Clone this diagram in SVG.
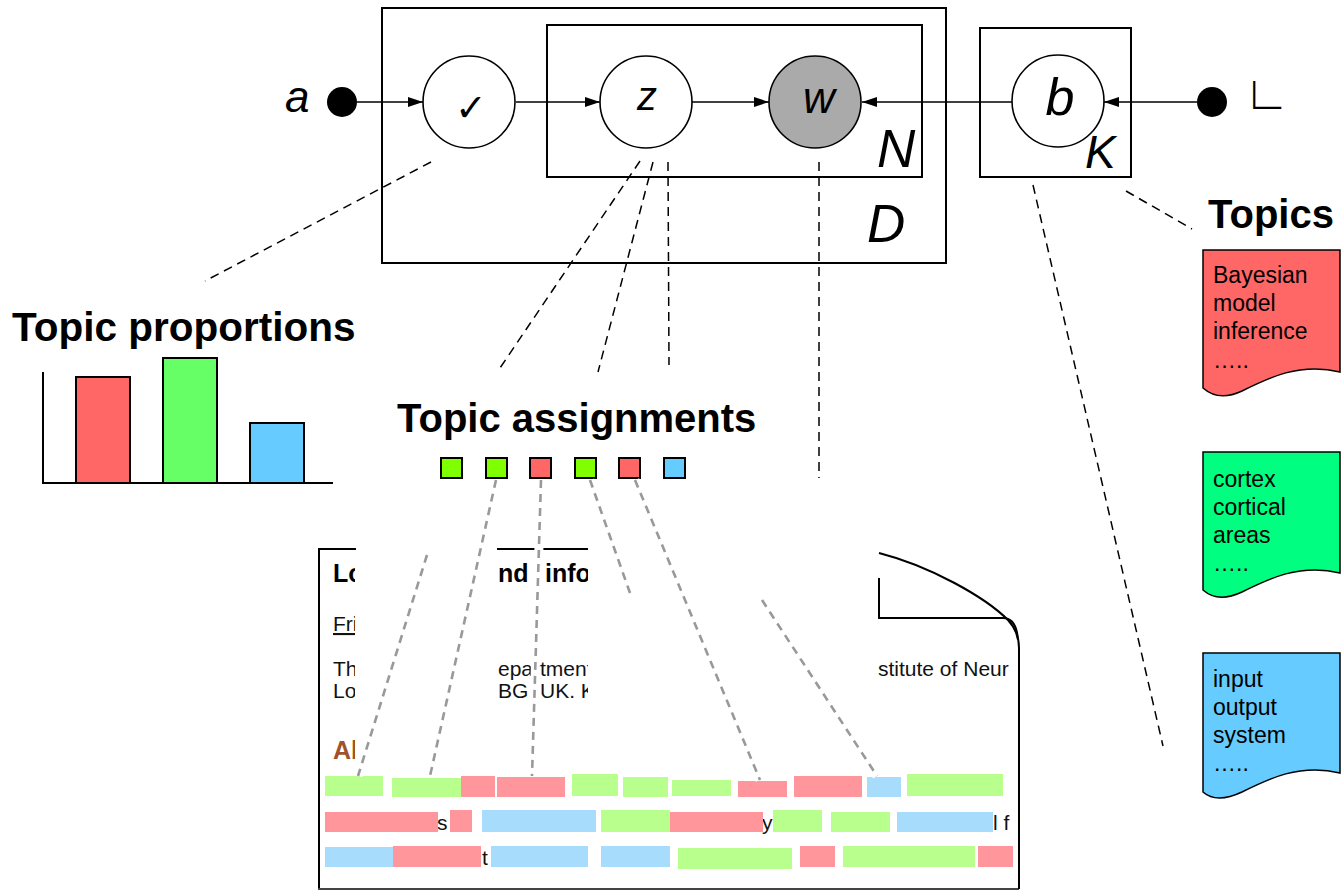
<svg xmlns="http://www.w3.org/2000/svg" width="1341" height="890" viewBox="0 0 1341 890">
  <style>
    .plate { fill: none; stroke: #000; stroke-width: 2; }
    .node { fill: #fff; stroke: #000; stroke-width: 1.6; }
    .obs { fill: #aaaaaa; stroke: #000; stroke-width: 1.6; }
    .var { font-family: "Liberation Sans", Arial, sans-serif; font-style: italic; fill: #000; }
    .edge { stroke: #000; stroke-width: 1.6; fill: none; }
    .lead { stroke: #000; stroke-width: 1.5; fill: none; stroke-dasharray: 9 6; }
    .glead { stroke: #999; stroke-width: 2.6; fill: none; stroke-dasharray: 8 6; }
    .halo { stroke: #fff; stroke-width: 9; fill: none; }
    .title { font-family: "Liberation Sans", Arial, sans-serif; font-weight: bold; font-size: 40px; fill: #000; }
    .topic { stroke: #000; stroke-width: 1.5; }
    .ttxt { font-family: "Liberation Sans", Arial, sans-serif; font-size: 23px; fill: #000; }
    .bar { stroke: #000; stroke-width: 2; }
    .sq { stroke: #000; stroke-width: 2; }
    .doc { font-family: "Liberation Sans", Arial, sans-serif; fill: #111; }
    .head { font-family: "Liberation Sans", Arial, sans-serif; font-weight: bold; font-size: 25px; }
    .hl-g { fill: #b8ff8e; }
    .hl-r { fill: #ff969c; }
    .hl-b { fill: #a8dcfc; }
  </style>
  <defs>
    <marker id="arrow" markerUnits="userSpaceOnUse" markerWidth="15" markerHeight="10" refX="15" refY="5" orient="auto">
      <path d="M0,0 L15,5 L0,10 z" fill="#000"/>
    </marker>
    <clipPath id="clipLeft"><rect x="315" y="540" width="40" height="230"/></clipPath>
    <clipPath id="clipMid"><rect x="497" y="540" width="91" height="170"/></clipPath>
  </defs>

  <rect width="1341" height="890" fill="#fff"/>

  <!-- plates -->
  <g id="plate-D"><rect class="plate" x="382" y="8" width="564" height="255"/>
    <text class="var" x="867" y="242" font-size="53">D</text></g>
  <g id="plate-N"><rect class="plate" x="547" y="25" width="375" height="152"/>
    <text class="var" x="877" y="167" font-size="53">N</text></g>
  <g id="plate-K"><rect class="plate" x="980" y="28" width="151" height="149"/>
    <text class="var" x="1085" y="168" font-size="46">K</text></g>

  <!-- connectors -->
  <g id="connectors">
    <line class="edge" x1="357" y1="102" x2="423" y2="102" marker-end="url(#arrow)"/>
    <line class="edge" x1="516" y1="102" x2="600" y2="102" marker-end="url(#arrow)"/>
    <line class="edge" x1="692" y1="102" x2="769" y2="102" marker-end="url(#arrow)"/>
    <line class="edge" x1="1012" y1="102" x2="862" y2="102" marker-end="url(#arrow)"/>
    <line class="edge" x1="1197" y1="102" x2="1104" y2="102" marker-end="url(#arrow)"/>
    <!-- dashed leaders from the model -->
    <line class="lead" x1="431" y1="162" x2="205" y2="281"/>
    <line class="lead" x1="640" y1="161" x2="500" y2="368"/>
    <line class="lead" x1="653" y1="162" x2="598" y2="372"/>
    <line class="lead" x1="668" y1="162" x2="669" y2="365"/>
    <line class="lead" x1="819" y1="162" x2="819" y2="478"/>
    <line class="lead" x1="1033" y1="185" x2="1163" y2="746"/>
    <line class="lead" x1="1126" y1="191" x2="1192" y2="229"/>
  </g>

  <!-- nodes -->
  <g id="node-alpha"><circle cx="342" cy="102" r="15" fill="#000"/>
    <text class="var" x="285" y="112" font-size="44">a</text></g>
  <g id="node-theta"><circle class="node" cx="469" cy="102" r="46"/>
    <text x="471" y="121" font-family="DejaVu Sans, sans-serif" font-size="38" text-anchor="middle">✓</text></g>
  <g id="node-z"><circle class="node" cx="646" cy="102" r="46"/>
    <text class="var" x="647" y="110" font-size="40" text-anchor="middle">z</text></g>
  <g id="node-w"><circle class="obs" cx="815" cy="102" r="46"/>
    <text class="var" x="819" y="113" font-size="44" text-anchor="middle">w</text></g>
  <g id="node-beta"><circle class="node" cx="1058" cy="101" r="46"/>
    <text class="var" x="1060" y="115" font-size="52" text-anchor="middle">b</text></g>
  <g id="node-eta"><circle cx="1212" cy="102" r="15" fill="#000"/>
    <text x="1244" y="109" font-family="DejaVu Sans, sans-serif" font-weight="200" font-size="47">∟</text></g>

  <!-- topic proportions -->
  <g id="proportions">
    <text class="title" x="12" y="341" style="font-size:40.5px">Topic proportions</text>
    <rect class="bar" x="76" y="377" width="54" height="106" fill="#ff6666"/>
    <rect class="bar" x="163" y="358" width="54" height="125" fill="#66ff66"/>
    <rect class="bar" x="250" y="423" width="54" height="60" fill="#66ccff"/>
    <polyline fill="none" stroke="#000" stroke-width="2" points="43,372 43,483 333,483"/>
  </g>

  <!-- topics -->
  <g id="topics">
    <text class="title" x="1208" y="228">Topics</text>
    <g id="topic-1">
      <path class="topic" fill="#ff6666" d="M1203,250 H1340 V372 C1300,362 1268,378 1242,391 C1225,399 1212,396 1203,388 Z"/>
      <text class="ttxt" x="1213" y="283">Bayesian</text>
      <text class="ttxt" x="1213" y="311">model</text>
      <text class="ttxt" x="1213" y="339">inference</text>
      <text class="ttxt" x="1213" y="368">…..</text>
    </g>
    <g id="topic-2">
      <path class="topic" fill="#00ff80" d="M1203,452 H1340 V573 C1300,563 1268,579 1242,592 C1225,600 1212,598 1203,590 Z"/>
      <text class="ttxt" x="1213" y="487">cortex</text>
      <text class="ttxt" x="1213" y="515">cortical</text>
      <text class="ttxt" x="1213" y="543">areas</text>
      <text class="ttxt" x="1213" y="571">…..</text>
    </g>
    <g id="topic-3">
      <path class="topic" fill="#66ccff" d="M1203,653 H1340 V773 C1300,763 1268,779 1242,792 C1225,800 1212,800 1203,792 Z"/>
      <text class="ttxt" x="1213" y="687">input</text>
      <text class="ttxt" x="1213" y="715">output</text>
      <text class="ttxt" x="1213" y="743">system</text>
      <text class="ttxt" x="1213" y="771">…..</text>
    </g>
  </g>

  <!-- topic assignments -->
  <g id="assignments">
    <text class="title" x="397" y="432">Topic assignments</text>
    <rect class="sq" x="441" y="458" width="21" height="20" fill="#80ff00"/>
    <rect class="sq" x="486" y="458" width="21" height="20" fill="#80ff00"/>
    <rect class="sq" x="530" y="458" width="21" height="20" fill="#ff6666"/>
    <rect class="sq" x="575" y="458" width="21" height="20" fill="#80ff00"/>
    <rect class="sq" x="619" y="458" width="21" height="20" fill="#ff6666"/>
    <rect class="sq" x="664" y="458" width="21" height="20" fill="#66ccff"/>
  </g>

  <!-- document page -->
  <g id="document">
    <line x1="319" y1="549" x2="319" y2="889" stroke="#000" stroke-width="2"/>
    <line x1="318" y1="889" x2="1019" y2="889" stroke="#444" stroke-width="2"/>
    <line x1="318" y1="549" x2="356" y2="549" stroke="#000" stroke-width="2"/>
    <line x1="497" y1="549" x2="588" y2="549" stroke="#000" stroke-width="2"/>
    <path d="M879,553 C930,566 985,597 1008,620 Q1019,632 1019,648 V889" fill="none" stroke="#000" stroke-width="2"/>
    <path d="M879,578 V618 H1003 C1012,618 1017,626 1018,640" fill="none" stroke="#000" stroke-width="2"/>

    <g clip-path="url(#clipLeft)">
      <text class="head" x="333" y="582" fill="#000">Lo</text>
      <text class="doc" x="333" y="631" font-size="21" fill="#333" text-decoration="underline">Fri</text>
      <text class="doc" x="333" y="676" font-size="21">Th</text>
      <text class="doc" x="333" y="698" font-size="21">Lo</text>
      <text class="head" x="333" y="759" fill="#a0522d">Ab</text>
    </g>
    <g clip-path="url(#clipMid)">
      <text class="head" x="498" y="582" fill="#000">nd</text>
      <text class="head" x="545" y="582" fill="#000">info</text>
      <text class="doc" x="498" y="676" font-size="21">epartment</text>
      <text class="doc" x="498" y="698" font-size="21">BG, UK. K</text>
    </g>
    <text class="doc" x="878" y="676" font-size="21">stitute of Neur</text>

    <!-- word fragments left between highlights -->
    <text class="doc" x="437" y="830" font-size="21">s</text>
    <text class="doc" x="482" y="865" font-size="21">t</text>
    <text class="doc" x="762" y="830" font-size="21">y</text>
    <text class="doc" x="993" y="830" font-size="21">l f</text>

    <!-- highlighted words, line 1 -->
    <rect class="hl-g" x="325" y="776" width="58" height="20"/>
    <rect class="hl-g" x="392" y="778" width="69" height="19"/>
    <rect class="hl-r" x="461" y="776" width="34" height="21"/>
    <rect class="hl-r" x="497" y="777" width="68" height="20"/>
    <rect class="hl-g" x="572" y="774" width="46" height="22"/>
    <rect class="hl-g" x="623" y="777" width="45" height="20"/>
    <rect class="hl-g" x="672" y="780" width="59" height="16"/>
    <rect class="hl-r" x="738" y="781" width="49" height="16"/>
    <rect class="hl-r" x="794" y="776" width="68" height="21"/>
    <rect class="hl-b" x="867" y="777" width="34" height="20"/>
    <rect class="hl-g" x="907" y="774" width="96" height="22"/>
    <!-- line 2 -->
    <rect class="hl-r" x="325" y="812" width="113" height="20"/>
    <rect class="hl-r" x="450" y="810" width="22" height="22"/>
    <rect class="hl-b" x="482" y="810" width="114" height="22"/>
    <rect class="hl-g" x="601" y="810" width="69" height="22"/>
    <rect class="hl-r" x="670" y="812" width="93" height="20"/>
    <rect class="hl-g" x="773" y="810" width="49" height="22"/>
    <rect class="hl-g" x="831" y="812" width="59" height="20"/>
    <rect class="hl-b" x="897" y="812" width="96" height="20"/>
    <!-- line 3 -->
    <rect class="hl-b" x="325" y="847" width="68" height="20"/>
    <rect class="hl-r" x="393" y="846" width="88" height="21"/>
    <rect class="hl-b" x="491" y="846" width="97" height="21"/>
    <rect class="hl-b" x="601" y="846" width="69" height="21"/>
    <rect class="hl-g" x="678" y="848" width="114" height="21"/>
    <rect class="hl-r" x="800" y="846" width="35" height="21"/>
    <rect class="hl-g" x="843" y="846" width="132" height="21"/>
    <rect class="hl-r" x="978" y="846" width="35" height="21"/>
  </g>

  <!-- grey leaders from assignments into the text -->
  <g id="word-links">
    <line class="halo" x1="427" y1="555" x2="358" y2="776"/>
    <line class="halo" x1="496" y1="480" x2="430" y2="776"/>
    <line class="halo" x1="541" y1="480" x2="532" y2="776"/>
    <line class="halo" x1="590" y1="480" x2="630" y2="593"/>
    <line class="halo" x1="635" y1="480" x2="760" y2="780"/>
    <line class="halo" x1="762" y1="600" x2="877" y2="776"/>
    <line class="glead" x1="427" y1="555" x2="358" y2="776"/>
    <line class="glead" x1="496" y1="480" x2="430" y2="776"/>
    <line class="glead" x1="541" y1="480" x2="532" y2="776"/>
    <line class="glead" x1="590" y1="480" x2="630" y2="593"/>
    <line class="glead" x1="635" y1="480" x2="760" y2="780"/>
    <line class="glead" x1="762" y1="600" x2="877" y2="776"/>
  </g>
</svg>
